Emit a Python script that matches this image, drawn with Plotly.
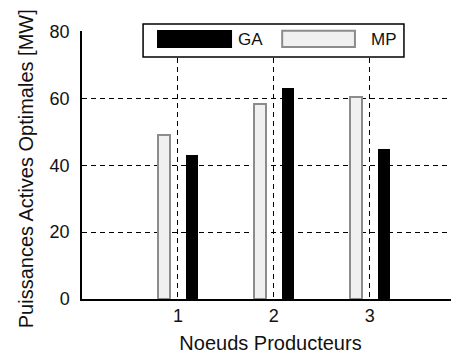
import plotly.graph_objects as go

nodes = [1, 2, 3]
tick_labels = ["1", "2", "3"]
ga_values = [43, 63, 45]
mp_values = [49, 58.5, 60.5]
y_ticks = [0, 20, 40, 60, 80]

FONT = "Liberation Sans, Arial, sans-serif"

fig = go.Figure()
fig.add_trace(go.Bar(
    x=nodes, y=mp_values, name="MP", width=0.125, offset=-0.21,
    marker=dict(color="#f0f0f0", line=dict(color="#8c8c8c", width=2)),
    showlegend=False,
))
fig.add_trace(go.Bar(
    x=nodes, y=ga_values, name="GA", width=0.125, offset=0.085,
    marker=dict(color="black", line=dict(color="black", width=0)),
    showlegend=False,
))

# legend drawn as shapes
shapes = [
    dict(type="rect", xref="paper", yref="paper", x0=0.162, x1=0.854, y0=0.903, y1=1.026,
         fillcolor="white", line=dict(color="black", width=1.5), layer="above"),
    dict(type="rect", xref="paper", yref="paper", x0=0.199, x1=0.398, y0=0.937, y1=1.004,
         fillcolor="black", line=dict(color="black", width=0), layer="above"),
    dict(type="rect", xref="paper", yref="paper", x0=0.531, x1=0.724, y0=0.940, y1=1.001,
         fillcolor="#f0f0f0", line=dict(color="#8c8c8c", width=2), layer="above"),
]
annotations = [
    dict(text="GA", xref="paper", yref="paper", x=0.408, y=0.970, xanchor="left", yanchor="middle",
         showarrow=False, font=dict(family=FONT, size=17, color="#111")),
    dict(text="MP", xref="paper", yref="paper", x=0.760, y=0.970, xanchor="left", yanchor="middle",
         showarrow=False, font=dict(family=FONT, size=17, color="#111")),
    dict(text="Puissances Actives Optimales [MW]", xref="paper", yref="paper",
         x=-0.148, y=0.485, xanchor="center", yanchor="middle", textangle=-90,
         showarrow=False, font=dict(family=FONT, size=20, color="#111")),
]

fig.update_layout(
    width=451, height=352,
    margin=dict(l=74, r=0, t=23, b=61, autoexpand=False),
    paper_bgcolor="white", plot_bgcolor="white",
    font=dict(family=FONT, size=18, color="#111"),
    shapes=shapes, annotations=annotations,
    bargap=0,
)
fig.update_xaxes(
    range=[0, 3.93], tickvals=nodes, ticktext=tick_labels,
    showgrid=True, gridcolor="black", griddash="5px,4px", gridwidth=1,
    showline=True, linecolor="black", linewidth=1.5, mirror=False,
    ticks="", zeroline=False, automargin=False,
    title=dict(text="Noeuds Producteurs", font=dict(family=FONT, size=20), standoff=11),
    tickfont=dict(family=FONT, size=18),
)
fig.update_yaxes(
    range=[0, 80.2], tickvals=y_ticks,
    showgrid=True, gridcolor="black", griddash="5px,4px", gridwidth=1,
    showline=True, linecolor="black", linewidth=1.5,
    ticks="", zeroline=False, ticklabelstandoff=7, automargin=False,
    tickfont=dict(family=FONT, size=18),
)

fig.write_html("out.html")
